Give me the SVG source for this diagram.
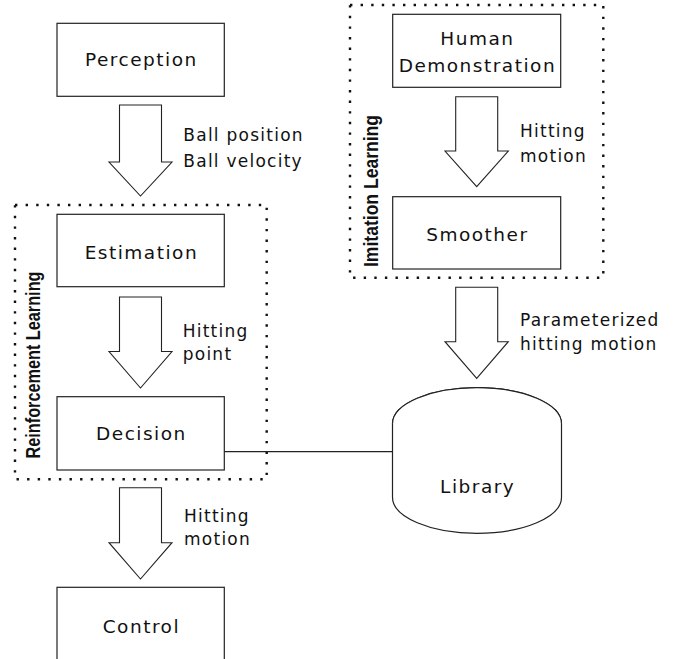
<svg xmlns="http://www.w3.org/2000/svg" width="680" height="659" viewBox="0 0 680 659">
<style>
.box{fill:#fff;stroke:#222;stroke-width:1.2}
.arrow{fill:#fff;stroke:#222;stroke-width:1.1;stroke-linejoin:miter}
.group{fill:none;stroke:#111;stroke-width:2.4;stroke-dasharray:2.4 8.2}
.conn{fill:none;stroke:#222;stroke-width:1.2}
.t{font-family:"DejaVu Sans","Liberation Sans",sans-serif;font-size:18.5px;letter-spacing:1.5px;fill:#111;text-anchor:middle}
.lbl{font-family:"DejaVu Sans","Liberation Sans",sans-serif;font-size:17px;letter-spacing:1.25px;fill:#111}
.grp{font-family:"Liberation Sans","DejaVu Sans",sans-serif;font-size:21px;font-weight:bold;fill:#111;text-anchor:middle}
</style>
<rect width="680" height="659" fill="#fff"/>
<g id="rl-group">
<rect class="group" x="15" y="205" width="251.7" height="274.3"/>
<text class="grp" transform="translate(40,365) rotate(-90)" textLength="187" lengthAdjust="spacingAndGlyphs">Reinforcement Learning</text>
</g>
<g id="il-group">
<rect class="group" x="350" y="5" width="253.3" height="272.7"/>
<text class="grp" transform="translate(377.5,191) rotate(-90)" textLength="152" lengthAdjust="spacingAndGlyphs">Imitation Learning</text>
</g>
<g id="connectors">
<line class="conn" x1="224" y1="451.7" x2="392.5" y2="451.7"/>
<g id="arrow-perception-estimation">
<polygon class="arrow" points="119.5,105 161.5,105 161.5,162 172,162 140.5,196 109,162 119.5,162"/>
<text class="lbl" x="183.3" y="141">Ball position</text>
<text class="lbl" x="183.3" y="166.5">Ball velocity</text>
</g>
<g id="arrow-estimation-decision">
<polygon class="arrow" points="119.5,297 161.5,297 161.5,351.5 172,351.5 140.5,388 109,351.5 119.5,351.5"/>
<text class="lbl" x="182.7" y="336.7">Hitting</text>
<text class="lbl" x="182.7" y="359.5">point</text>
</g>
<g id="arrow-decision-control">
<polygon class="arrow" points="119.5,487.7 161.5,487.7 161.5,542.7 172,542.7 140.5,579 109,542.7 119.5,542.7"/>
<text class="lbl" x="184" y="522.3">Hitting</text>
<text class="lbl" x="184" y="545">motion</text>
</g>
<g id="arrow-human-smoother">
<polygon class="arrow" points="455.7,96.7 497.7,96.7 497.7,151 508.3,151 476.7,186.7 445,151 455.7,151"/>
<text class="lbl" x="520" y="136.7">Hitting</text>
<text class="lbl" x="520" y="161.7">motion</text>
</g>
<g id="arrow-smoother-library">
<polygon class="arrow" points="455.7,287.3 497.7,287.3 497.7,341.7 508.3,341.7 476.7,378.3 445,341.7 455.7,341.7"/>
<text class="lbl" x="520" y="325.7">Parameterized</text>
<text class="lbl" x="520" y="350">hitting motion</text>
</g>
</g>
<g id="perception">
<rect class="box" x="57" y="23.3" width="167.3" height="73"/>
<text class="t" x="141.4" y="65.7">Perception</text>
</g>
<g id="estimation">
<rect class="box" x="57" y="214.3" width="167.3" height="72.4"/>
<text class="t" x="141.4" y="259">Estimation</text>
</g>
<g id="decision">
<rect class="box" x="57" y="396.7" width="167.3" height="73.3"/>
<text class="t" x="141.4" y="440">Decision</text>
</g>
<g id="control">
<rect class="box" x="57" y="587.3" width="167.3" height="80"/>
<text class="t" x="141.4" y="633.3">Control</text>
</g>
<g id="human-demonstration">
<rect class="box" x="392.7" y="14.3" width="168" height="73"/>
<text class="t" x="477.4" y="45">Human</text>
<text class="t" x="477.4" y="72.3">Demonstration</text>
</g>
<g id="smoother">
<rect class="box" x="392.7" y="196.7" width="168" height="72.3"/>
<text class="t" x="477.4" y="240.7">Smoother</text>
</g>
<g id="library">
<path class="box" d="M392.5,423.7 L392.5,497.3 A84.5,36 0 0,0 561.5,497.3 L561.5,423.7 A84.5,36 0 0,0 392.5,423.7 Z"/>
<path class="box" d="M392.5,423.7 A84.5,36 0 0,1 561.5,423.7" fill="none"/>
<text class="t" x="477.7" y="493.3">Library</text>
</g>
</svg>
